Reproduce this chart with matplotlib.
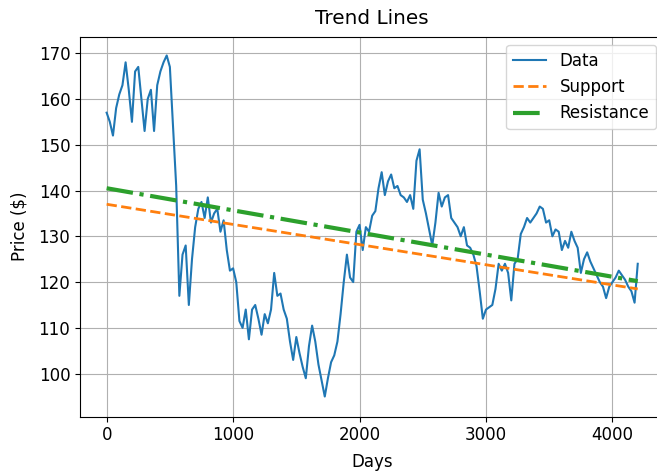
import numpy as np
import matplotlib
matplotlib.use("Agg")
from matplotlib import pyplot as plt

plt.rcParams["font.size"] = 12

# price, one value every 25 days
step = 25
prices = [
    157, 155, 152, 158, 161, 163, 168, 162, 155, 166,
    167, 160, 153, 160, 162, 153, 163, 166, 168, 169.5,
    167, 154, 141, 117, 126, 128, 115, 125, 132, 136,
    137.5, 134, 138.5, 133, 135, 136, 131, 133.5, 127, 122.5,
    123, 120, 111.5, 110, 114, 107.5, 114, 115, 112, 108.5,
    113, 111, 114, 122, 117, 117.5, 114, 112, 107, 103,
    108, 104.5, 101.5, 99, 106, 110.5, 107, 102, 98.5, 95,
    99, 102.5, 104, 107, 113, 120, 126, 121, 120, 131,
    132.5, 127, 132, 131, 134.5, 135.5, 140.5, 144, 139, 142,
    143.5, 140.5, 141, 139, 138.5, 137.5, 139, 136, 146.5, 149,
    138, 135, 131.5, 128, 133, 139.5, 136.5, 138.5, 139, 134,
    133, 132, 130, 132, 128, 127.5, 126, 123.5, 118, 112,
    114, 114.5, 115, 118.5, 124, 122.5, 124, 122, 116, 124,
    125, 130.5, 132, 134, 133, 134, 135, 136.5, 136, 133,
    133.5, 130, 131.5, 131, 127, 129, 127.5, 131, 129, 127.5,
    122, 125, 126.5, 124.5, 123, 121.5, 120, 119, 116.5, 119,
    120, 121, 122.5, 121.5, 120.5, 119, 118, 115.5, 124,
]
days = np.arange(len(prices)) * step

# trend line end points (day 0 and last day)
support_ends = [137.0, 118.5]
resistance_ends = [140.5, 120.2]

fig = plt.figure(figsize=(6.57, 4.71), dpi=100)
ax = fig.add_axes([0.1219, 0.1153, 0.8892, 0.8068])

ax.plot(days, prices, label="Data")
ax.plot([days[0], days[-1]], support_ends, "--", lw=2, label="Support")
ax.plot([days[0], days[-1]], resistance_ends, "-.", lw=3, label="Resistance")

ax.set_ylim(90.6, 173.6)
ax.set_xticks([0, 1000, 2000, 3000, 4000])
ax.set_yticks([100, 110, 120, 130, 140, 150, 160, 170])
ax.spines["right"].set_visible(False)
ax.grid(True)
ax.set_title("Trend Lines", pad=9)
ax.set_xlabel("Days", labelpad=6)
ax.set_ylabel("Price ($)", labelpad=7.5)
ax.legend(loc="upper right")

fig.savefig("out.png", dpi=100)
